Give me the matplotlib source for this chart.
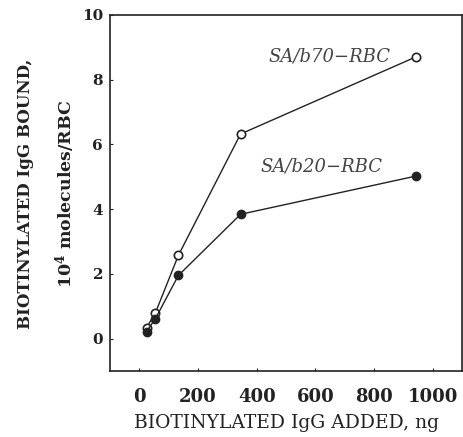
import matplotlib
matplotlib.use("Agg")
import matplotlib.pyplot as plt

# values
igg_added = [25, 55, 133, 345, 942]
bound_b70 = [0.34, 0.80, 2.57, 6.32, 8.70]
bound_b20 = [0.22, 0.62, 1.95, 3.84, 5.02]
x_ticks = [0, 200, 400, 600, 800, 1000]
y_ticks = [0, 2, 4, 6, 8, 10]

plt.rcParams['font.family'] = 'DejaVu Serif'
plt.rcParams['font.weight'] = 'bold'
plt.rcParams['mathtext.fontset'] = 'dejavuserif'

ink = '#222222'

fig = plt.figure(figsize=(4.64, 4.37), dpi=100)
ax = fig.add_axes([0.237, 0.151, 0.759, 0.815])

ax.plot(igg_added, bound_b70, '-o', color=ink, lw=1.0, ms=6,
        mfc='white', mec=ink, mew=1.2, zorder=3)
ax.plot(igg_added, bound_b20, '-o', color=ink, lw=1.0, ms=6,
        mfc=ink, mec=ink, zorder=3)

ax.text(440, 8.7, 'SA/b70\u2212RBC', style='italic', fontsize=13,
        color='#444444', va='center', ha='left', fontweight='normal')
ax.text(413, 5.33, 'SA/b20\u2212RBC', style='italic', fontsize=13,
        color='#444444', va='center', ha='left', fontweight='normal')

ax.set_xlim(-100, 1100)
ax.set_ylim(-1, 10)
ax.set_xticks(x_ticks)
ax.set_yticks(y_ticks)
ax.tick_params(axis='x', direction='in', length=2, pad=12, labelsize=13, colors=ink)
ax.tick_params(axis='y', direction='in', length=2, pad=5, labelsize=11, colors=ink)
for s in ax.spines.values():
    s.set_linewidth(1.2)
    s.set_color(ink)

ax.set_xlabel('BIOTINYLATED IgG ADDED, ng', fontsize=13.5, labelpad=6, color=ink)

fig.text(0.054, 0.557, 'BIOTINYLATED IgG BOUND,', rotation=90,
         ha='center', va='center', fontsize=12, color=ink)
fig.text(0.14, 0.557, r'10$^{\mathbf{4}}$ molecules/RBC', rotation=90,
         ha='center', va='center', fontsize=12.5, color=ink)

fig.savefig('out.png', dpi=100)
